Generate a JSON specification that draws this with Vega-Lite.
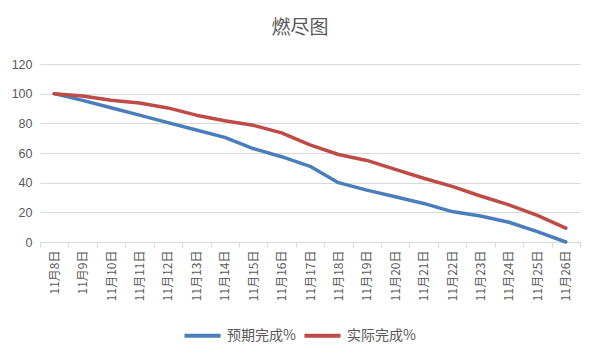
{
  "$schema": "https://vega.github.io/schema/vega-lite/v6.json",
  "autosize": "none",
  "width": 540,
  "height": 178,
  "padding": {"left": 40, "top": 64, "right": 20, "bottom": 119},
  "background": "white",
  "title": {"text": "燃尽图", "font": "Noto Sans CJK SC", "fontSize": 19, "fontWeight": "normal", "color": "#595959", "anchor": "middle", "dx": -10, "offset": 20},
  "config": {"view": {"stroke": null}},
  "data": {"values": [
    {"d": "11月8日", "s": "预期完成%", "v": 100},
    {"d": "11月9日", "s": "预期完成%", "v": 95.5},
    {"d": "11月10日", "s": "预期完成%", "v": 90.5},
    {"d": "11月11日", "s": "预期完成%", "v": 85.5},
    {"d": "11月12日", "s": "预期完成%", "v": 80.5},
    {"d": "11月13日", "s": "预期完成%", "v": 75.5},
    {"d": "11月14日", "s": "预期完成%", "v": 70.5},
    {"d": "11月15日", "s": "预期完成%", "v": 63},
    {"d": "11月16日", "s": "预期完成%", "v": 57.5},
    {"d": "11月17日", "s": "预期完成%", "v": 51},
    {"d": "11月18日", "s": "预期完成%", "v": 40},
    {"d": "11月19日", "s": "预期完成%", "v": 35},
    {"d": "11月20日", "s": "预期完成%", "v": 30.5},
    {"d": "11月21日", "s": "预期完成%", "v": 26},
    {"d": "11月22日", "s": "预期完成%", "v": 20.5},
    {"d": "11月23日", "s": "预期完成%", "v": 17.5},
    {"d": "11月24日", "s": "预期完成%", "v": 13.3},
    {"d": "11月25日", "s": "预期完成%", "v": 7},
    {"d": "11月26日", "s": "预期完成%", "v": 0},
    {"d": "11月8日", "s": "实际完成%", "v": 100},
    {"d": "11月9日", "s": "实际完成%", "v": 98.4},
    {"d": "11月10日", "s": "实际完成%", "v": 95.5},
    {"d": "11月11日", "s": "实际完成%", "v": 93.7},
    {"d": "11月12日", "s": "实际完成%", "v": 90.4},
    {"d": "11月13日", "s": "实际完成%", "v": 85.5},
    {"d": "11月14日", "s": "实际完成%", "v": 81.7},
    {"d": "11月15日", "s": "实际完成%", "v": 78.7},
    {"d": "11月16日", "s": "实际完成%", "v": 73.6},
    {"d": "11月17日", "s": "实际完成%", "v": 65.5},
    {"d": "11月18日", "s": "实际完成%", "v": 59},
    {"d": "11月19日", "s": "实际完成%", "v": 55},
    {"d": "11月20日", "s": "实际完成%", "v": 49},
    {"d": "11月21日", "s": "实际完成%", "v": 43},
    {"d": "11月22日", "s": "实际完成%", "v": 37.5},
    {"d": "11月23日", "s": "实际完成%", "v": 31},
    {"d": "11月24日", "s": "实际完成%", "v": 25},
    {"d": "11月25日", "s": "实际完成%", "v": 18},
    {"d": "11月26日", "s": "实际完成%", "v": 9.3}
  ]},
  "mark": {"type": "line", "strokeWidth": 3.5, "strokeCap": "round", "strokeJoin": "round"},
  "encoding": {
    "x": {
      "field": "d", "type": "ordinal", "sort": null,
      "scale": {"type": "band", "paddingInner": 0, "paddingOuter": 0},
      "axis": {
        "title": null, "labelAngle": -90, "labelFont": "Noto Sans CJK SC", "labelFontSize": 12,
        "labelColor": "#595959", "domainColor": "#d9d9d9", "tickColor": "#d9d9d9",
        "tickSize": 5, "tickBand": "extent", "labelPadding": 3, "grid": false
      }
    },
    "y": {
      "field": "v", "type": "quantitative",
      "scale": {"domain": [0, 120], "nice": false},
      "axis": {
        "title": null, "values": [0, 20, 40, 60, 80, 100, 120], "domain": false, "ticks": false,
        "labelFont": "Liberation Sans", "labelFontSize": 12.5, "labelColor": "#595959",
        "labelPadding": 8, "gridColor": "#d9d9d9", "gridWidth": 1
      }
    },
    "color": {
      "field": "s", "type": "nominal", "sort": ["预期完成%", "实际完成%"],
      "scale": {"domain": ["预期完成%", "实际完成%"], "range": ["#4A7EBB", "#BE4B48"]},
      "legend": {
        "title": null, "orient": "none", "legendX": 142, "legendY": 251, "direction": "horizontal",
        "symbolType": "stroke", "symbolSize": 1300, "symbolStrokeWidth": 4,
        "labelFont": "Noto Sans CJK SC", "labelFontSize": 14, "labelColor": "#595959", "columnPadding": 0, "labelOffset": 4
      }
    }
  }
}
